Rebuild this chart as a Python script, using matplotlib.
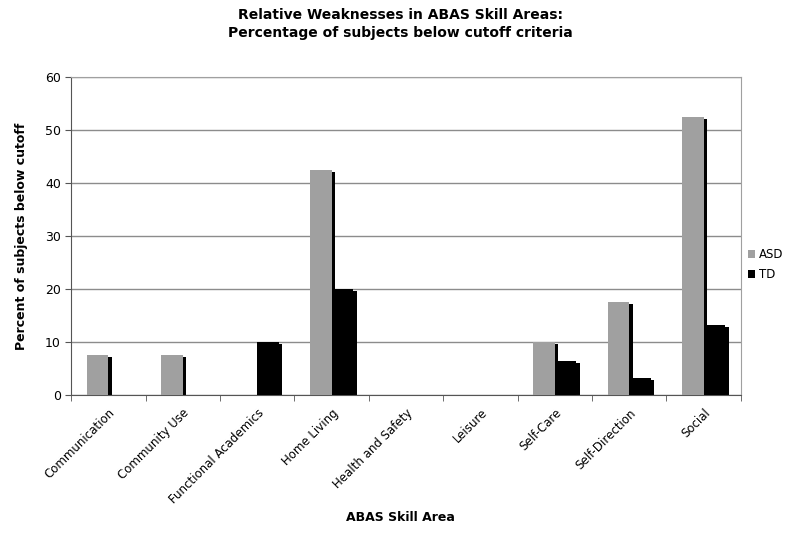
import numpy as np
import matplotlib
matplotlib.use("Agg")
import matplotlib.pyplot as plt

# data
areas = ["Communication", "Community Use", "Functional Academics", "Home Living",
         "Health and Safety", "Leisure", "Self-Care", "Self-Direction", "Social"]
asd = [7.5, 7.5, 0, 42.5, 0, 0, 10, 17.5, 52.5]
td = [0, 0, 10, 20, 0, 0, 6.5, 3.3, 13.2]

plt.rcParams['font.family'] = ['DejaVu Sans']

fig = plt.figure(figsize=(8, 5.34), dpi=100)
ax = fig.add_axes([0.089, 0.260, 0.837, 0.596])

x = np.arange(len(areas))
w = 0.29

def shadowed(xpos, vals, color, label):
    vals = np.array(vals, dtype=float)
    mask = vals > 0
    # dark edge on the right of each bar (old Excel shadow look)
    ax.bar(xpos[mask] + w / 2 + 0.02, vals[mask] - 0.35, width=0.05,
           color='black', zorder=2)
    ax.bar(xpos, vals, width=w, color=color, label=label, zorder=3)

shadowed(x - w / 2, asd, '#a0a0a0', 'ASD')
shadowed(x + w / 2, td, 'black', 'TD')

ax.set_xlim(-0.5, len(areas) - 0.5)
ax.set_ylim(0, 60)
ax.set_yticks(range(0, 61, 10))
ax.yaxis.grid(True, color='#8c8c8c', linewidth=1)
ax.set_axisbelow(True)

ax.set_xticks(x)
ax.set_xticklabels(areas, rotation=45, ha='right', rotation_mode='anchor', fontsize=8.5)
ax.set_xticks(np.arange(-0.5, len(areas)), minor=True)
ax.tick_params(axis='x', which='major', length=0, pad=8)
ax.tick_params(axis='x', which='minor', length=4, color='#555555')
ax.tick_params(axis='y', labelsize=9, length=4, color='#555555')

for side in ['top', 'right']:
    ax.spines[side].set_color('#a0a0a0')
ax.spines['left'].set_color('#555555')
ax.spines['bottom'].set_color('#555555')

ax.set_ylabel("Percent of subjects below cutoff", fontsize=9, fontweight='bold', labelpad=12)
fig.text(0.5, 0.025, "ABAS Skill Area", ha='center', fontsize=9, fontweight='bold')
fig.text(0.5, 0.955, "Relative Weaknesses in ABAS Skill Areas:\nPercentage of subjects below cutoff criteria",
         ha='center', va='center', fontsize=10, fontweight='bold', linespacing=1.3)

ax.legend(loc='center left', bbox_to_anchor=(0.995, 0.41), frameon=False, fontsize=8.5,
          handlelength=0.6, handleheight=0.6, handletextpad=0.3, labelspacing=0.6)

fig.savefig("out.png", dpi=100)
